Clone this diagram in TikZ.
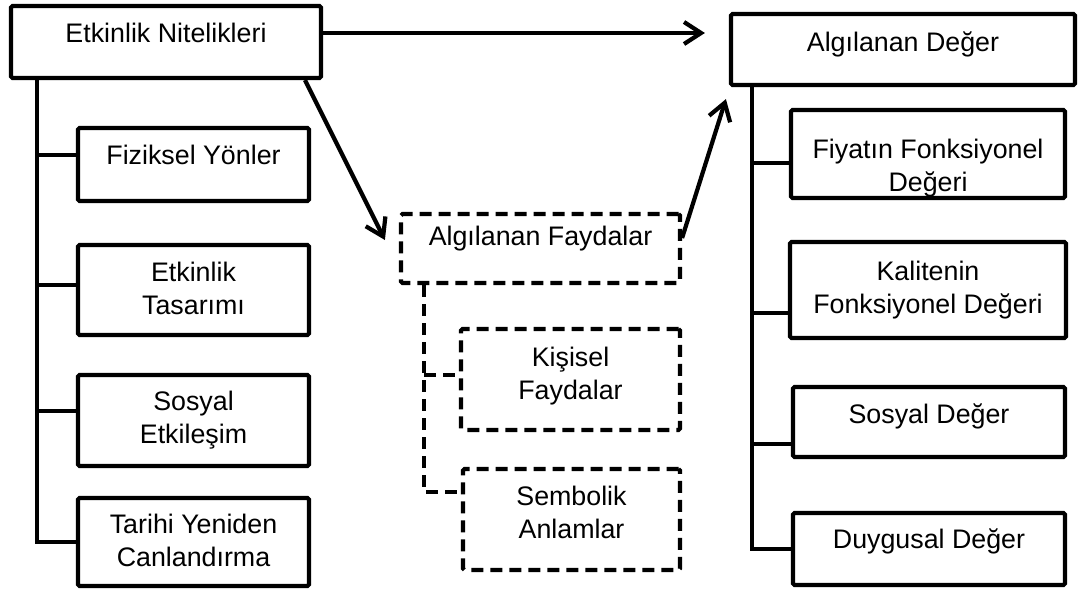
\documentclass[tikz,border=0pt]{standalone}
\usepackage{fontspec}
\setmainfont{Liberation Sans}
\usetikzlibrary{arrows.meta,backgrounds}
\begin{document}
\begin{tikzpicture}[x=1pt,y=-1pt,
  every node/.style={font=\fontsize{26.8}{33}\selectfont},
  box/.style={draw, line width=4.2pt, rounded corners=1.5pt, fill=white, inner sep=0pt},
  dbox/.style={box, dash pattern=on 12pt off 7pt},
  conn/.style={line width=4.2pt},
  dconn/.style={conn, dash pattern=on 12pt off 7pt},
  arr/.style={line width=4.2pt, -{Straight Barb[length=17pt,width=22pt]}},
  one/.style={anchor=base, inner sep=0pt},
  two/.style={anchor=center, align=center, inner sep=0pt}]
\useasboundingbox (0,0) rectangle (1083,597);

% boxes
\node[box, minimum width=310pt, minimum height=72pt] (en) at (166,42) {};
\node[box, minimum width=231pt, minimum height=73pt] (fy) at (193.5,164.5) {};
\node[box, minimum width=231pt, minimum height=90pt] (et) at (193.5,290) {};
\node[box, minimum width=231pt, minimum height=91pt] (se) at (193.5,420.5) {};
\node[box, minimum width=231pt, minimum height=88pt] (tc) at (193.5,542) {};

\node[box, minimum width=344pt, minimum height=71pt] (ad) at (903,49.5) {};
\node[box, minimum width=274pt, minimum height=88pt] (ff) at (928,154) {};
\node[box, minimum width=276pt, minimum height=96pt] (kf) at (928,290) {};
\node[box, minimum width=272pt, minimum height=70pt] (sd) at (929,422) {};
\node[box, minimum width=272pt, minimum height=72pt] (dd) at (929,549) {};

\node[dbox, minimum width=279pt, minimum height=69pt] (af) at (540.5,248.5) {};
\node[dbox, minimum width=219pt, minimum height=101pt] (kp) at (570.5,379.5) {};
\node[dbox, minimum width=217pt, minimum height=101pt] (sa) at (571.5,519.5) {};

% spine positions
\coordinate (lx) at (37,0);
\coordinate (rx) at (752,0);
\coordinate (dx) at (424,0);

% branch points on the boxes
\coordinate (fyb) at ([yshift=9.5pt]fy.west);
\coordinate (etb) at ([yshift=5pt]et.west);
\coordinate (seb) at ([yshift=9.5pt]se.west);
\coordinate (ffb) at ([yshift=-9pt]ff.west);
\coordinate (kfb) at ([yshift=-23pt]kf.west);
\coordinate (sdb) at ([yshift=-22pt]sd.west);
\coordinate (kpb) at ([yshift=4.5pt]kp.west);
\coordinate (sab) at ([yshift=27.5pt]sa.west);

% tree connectors, behind the boxes
\begin{scope}[on background layer]
\draw[conn] (en.south -| lx) |- (tc.west);
\draw[conn] (fyb -| lx) -- (fyb);
\draw[conn] (etb -| lx) -- (etb);
\draw[conn] (seb -| lx) -- (seb);

\draw[conn] (ad.south -| rx) |- (dd.west);
\draw[conn] (ffb -| rx) -- (ffb);
\draw[conn] (kfb -| rx) -- (kfb);
\draw[conn] (sdb -| rx) -- (sdb);

\draw[dconn] (af.south -| dx) |- (sab);
\draw[dconn] (kpb -| dx) -- (kpb);
\end{scope}

% arrows
\draw[arr] ([yshift=9pt]en.east) -- ([xshift=-24pt,yshift=16.5pt]ad.west);
\draw[arr] ([xshift=139pt]en.south) -- ([xshift=-14pt,yshift=8.5pt]af.west);
\draw[arr] ([yshift=10.5pt]af.east) -- ([xshift=-3pt,yshift=-12pt]ad.south west);

% labels
\node[one] (ten) at (en.center) {Etkinlik Nitelikleri};
\node[one] (tfy) at ([yshift=0.5pt]fy.center) {Fiziksel Yönler};
\node[two] (tet) at ([yshift=-1.6pt]et.center) {\strut Etkinlik\\\strut Tasarımı};
\node[two] (tse) at ([yshift=0.6pt]se.center) {\strut Sosyal\\\strut Etkileşim};
\node[two] (ttc) at ([yshift=-0.9pt]tc.center) {\strut Tarihi Yeniden\\\strut Canlandırma};

\node[one] (tad) at ([yshift=-2.2pt]ad.center) {Algılanan Değer};
\node[two] (tff) at ([yshift=-13.9pt]ff.center) {\strut Fiyatın Fonksiyonel\\\strut Değeri};
\node[two] (tkf) at (kf.center) {\strut Kalitenin\\\strut Fonksiyonel Değeri};
\node[one] (tsd) at ([yshift=-1pt]sd.center) {Sosyal Değer};
\node[one] (tdd) at ([yshift=1pt]dd.center) {Duygusal Değer};

\node[one] (taf) at ([yshift=3.5pt]af.center) {Algılanan Faydalar};
\node[two] (tkp) at ([yshift=2.9pt]kp.center) {\strut Kişisel\\\strut Faydalar};
\node[two] (tsa) at ([yshift=4.6pt]sa.center) {\strut Sembolik\\\strut Anlamlar};
\end{tikzpicture}
\end{document}
